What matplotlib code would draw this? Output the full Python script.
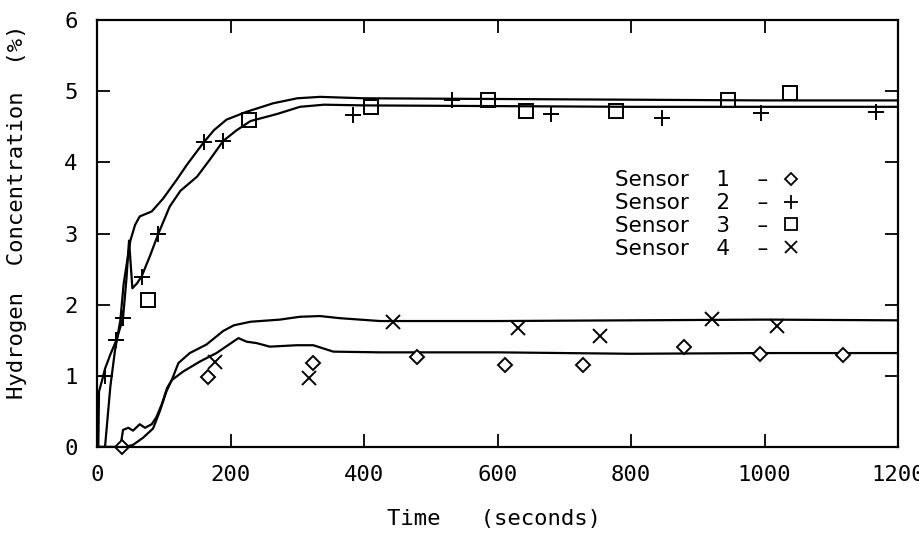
import matplotlib
matplotlib.use("Agg")
import matplotlib.pyplot as plt
from matplotlib.lines import Line2D

# ---------------- data ----------------
# model curves (time in s, concentration in %)
t_s1 = [0, 35, 39, 47, 54, 64, 72, 82, 89, 97, 105, 112, 129, 154, 179, 204, 212,
        224, 239, 259, 299, 324, 354, 424, 600, 800, 1000, 1200]
y_s1 = [0, 0, 0.24, 0.27, 0.23, 0.32, 0.27, 0.32, 0.42, 0.60, 0.83, 0.94, 1.06, 1.20,
        1.32, 1.48, 1.53, 1.48, 1.46, 1.41, 1.43, 1.43, 1.34, 1.33, 1.33, 1.31, 1.32, 1.32]

t_s4 = [0, 42, 54, 69, 84, 94, 104, 112, 122, 139, 164, 189, 205, 230, 274, 304,
        334, 364, 424, 600, 800, 1000, 1200]
y_s4 = [0, 0, 0.03, 0.13, 0.26, 0.50, 0.78, 0.94, 1.18, 1.32, 1.44, 1.63, 1.71, 1.76,
        1.79, 1.83, 1.84, 1.81, 1.77, 1.77, 1.78, 1.79, 1.78]

t_s2 = [0, 2, 3, 8, 12, 20, 29, 39, 44, 48, 53, 60, 67, 80, 92, 109, 125, 150, 170,
        189, 209, 230, 270, 304, 340, 400, 600, 800, 1000, 1200]
y_s2 = [0, 0, 0.78, 0.95, 1.10, 1.30, 1.50, 1.81, 2.35, 2.90, 2.23, 2.30, 2.40, 2.70,
        3.00, 3.38, 3.60, 3.80, 4.05, 4.30, 4.45, 4.58, 4.68, 4.78, 4.81, 4.80, 4.79,
        4.78, 4.78, 4.78]

t_s3 = [0, 12, 20, 27, 35, 40, 45, 50, 57, 64, 82, 99, 119, 135, 159, 175, 194, 224,
        264, 300, 334, 400, 600, 800, 1000, 1200]
y_s3 = [0, 0, 0.85, 1.36, 1.78, 2.30, 2.60, 2.90, 3.12, 3.24, 3.31, 3.49, 3.75, 3.97,
        4.27, 4.45, 4.60, 4.71, 4.83, 4.90, 4.92, 4.90, 4.89, 4.88, 4.87, 4.87]

# measured points
pt_s1 = [38, 167, 324, 479, 611, 728, 880, 993, 1117]
pv_s1 = [0.0, 0.99, 1.18, 1.26, 1.15, 1.15, 1.40, 1.30, 1.29]

pt_s2 = [12, 29, 39, 67, 92, 160, 189, 384, 532, 680, 847, 995, 1167]
pv_s2 = [1.00, 1.50, 1.81, 2.39, 3.00, 4.28, 4.30, 4.67, 4.87, 4.68, 4.62, 4.70, 4.71]

pt_s3 = [77, 227, 410, 586, 642, 778, 945, 1038]
pv_s3 = [2.06, 4.60, 4.78, 4.88, 4.72, 4.72, 4.88, 4.98]

pt_s4 = [177, 317, 444, 630, 754, 921, 1019]
pv_s4 = [1.20, 0.97, 1.76, 1.67, 1.555, 1.80, 1.70]

x_ticks = [0, 200, 400, 600, 800, 1000, 1200]
y_ticks = [0, 1, 2, 3, 4, 5, 6]
legend_labels = ["Sensor    1    \u2013", "Sensor    2    \u2013",
                 "Sensor    3    \u2013", "Sensor    4    \u2013"]

# ---------------- figure ----------------
mono = "DejaVu Sans Mono"
fig = plt.figure(figsize=(9.2, 5.33), dpi=100)
ax = fig.add_axes([97 / 920, 86 / 533, 801 / 920, 427 / 533])

lw = 1.6
for t, y in [(t_s1, y_s1), (t_s4, y_s4), (t_s2, y_s2), (t_s3, y_s3)]:
    ax.plot(t, y, color="black", lw=lw, solid_joinstyle="round")

mk = dict(color="black", linestyle="none", mfc="white", mew=1.4, clip_on=False)
ax.plot(pt_s1, pv_s1, marker="D", ms=7.5, **mk)
ax.plot(pt_s2, pv_s2, marker="+", ms=12, **mk)
ax.plot(pt_s3, pv_s3, marker="s", ms=10.5, **{**mk, "mfc": "none"})
ax.plot(pt_s4, pv_s4, marker="x", ms=10, **mk)

ax.set_xlim(0, 1200)
ax.set_ylim(0, 6)
ax.set_xticks(x_ticks)
ax.set_yticks(y_ticks)
ax.set_xticklabels([str(v) for v in x_ticks], fontfamily=mono, fontsize=16)
ax.set_yticklabels([str(v) for v in y_ticks], fontfamily=mono, fontsize=16)
ax.tick_params(direction="in", length=9.5, width=1.3, top=True, right=True,
               color="black")
ax.tick_params(axis="x", pad=13)
ax.tick_params(axis="y", pad=14)
for s in ax.spines.values():
    s.set_linewidth(1.6)

ax.set_xlabel("Time   (seconds)", fontfamily=mono, fontsize=16)
ax.set_ylabel("Hydrogen  Concentration  (%)", fontfamily=mono, fontsize=16)
ax.xaxis.set_label_coords(0.4956, -0.145)
ax.yaxis.set_label_coords(-0.087, 0.55)

handles = [
    Line2D([], [], color="black", marker="D", ms=6.5, mfc="white", mew=1.3, linestyle="none"),
    Line2D([], [], color="black", marker="+", ms=10, mew=1.3, linestyle="none"),
    Line2D([], [], color="black", marker="s", ms=9, mfc="none", mew=1.3, linestyle="none"),
    Line2D([], [], color="black", marker="x", ms=8.5, mew=1.3, linestyle="none"),
]
ax.legend(handles, legend_labels, loc="upper left", bbox_to_anchor=(0.6467, 0.648),
          frameon=False, markerfirst=False, handlelength=1.0, handletextpad=0.55,
          borderpad=0, borderaxespad=0, labelspacing=0.13,
          prop={"family": "DejaVu Sans", "size": 15.5})

fig.savefig("out.png", dpi=100, facecolor="white")
